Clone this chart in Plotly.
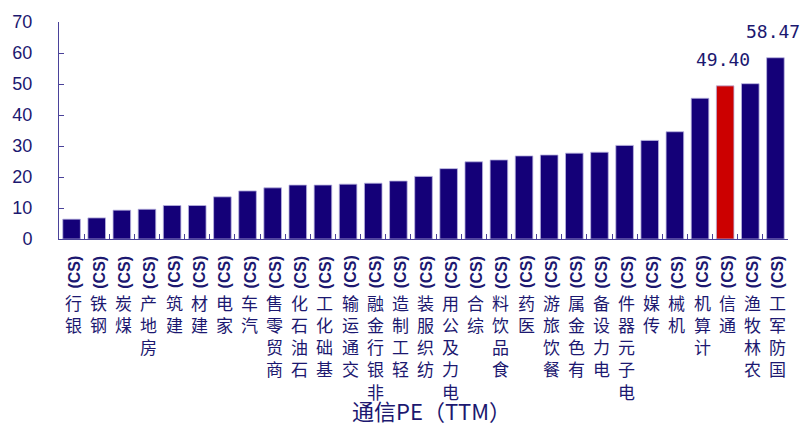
import plotly.graph_objects as go

# Industry names (CITIC level-1) and their PE (TTM)
industries = ["银行", "钢铁", "煤炭", "房地产", "建筑", "建材", "家电", "汽车",
              "商贸零售", "石油石化", "基础化工", "交通运输", "非银行金融", "轻工制造",
              "纺织服装", "电力及公用", "综合", "食品饮料", "医药", "餐饮旅游",
              "有色金属", "电力设备", "电子元器件", "传媒", "机械", "计算机",
              "通信", "农林牧渔", "国防军工"]
pe_ttm = [6.4, 6.8, 9.3, 9.6, 10.8, 10.8, 13.6, 15.5, 16.5, 17.4, 17.4, 17.7,
          18.0, 18.7, 20.2, 22.7, 24.9, 25.5, 26.8, 27.1, 27.7, 28.0, 30.2,
          31.8, 34.6, 45.4, 49.40, 50.1, 58.47]
highlight = "通信"
labelled = ["通信", "国防军工"]
suffix = "(CS)"
y_ticks = [0, 10, 20, 30, 40, 50, 60, 70]
title_text = "通信PE（TTM）"

NAVY = "#140078"
RED = "#cc0000"
TEXT = "#1c1870"
AXIS = "#4a4299"

bar_colors = [RED if name == highlight else NAVY for name in industries]

fig = go.Figure()
fig.add_trace(go.Bar(
    x=industries,
    y=pe_ttm,
    marker=dict(color=bar_colors, line=dict(color="#b9b4e0", width=0.8)),
    hoverinfo="x+y",
    showlegend=False,
))

annotations = []
# Value labels above selected bars
for name, val in zip(industries, pe_ttm):
    if name in labelled:
        annotations.append(dict(
            x=name, y=val, xref="x", yref="y",
            text=f"{val:.2f}", showarrow=False,
            xanchor="center", yanchor="bottom", yshift=14, xshift=-2,
            font=dict(family="DejaVu Sans Mono", size=18, color=TEXT),
        ))

# Vertical category labels read bottom-to-top: "(CS)" rotated next to the axis,
# Chinese characters kept upright and stacked below it (last character on top)
CHAR_PITCH = 22.3
for name in industries:
    annotations.append(dict(
        x=name, y=0, xref="x", yref="y",
        text=f"<b>{suffix}</b>", textangle=-90, showarrow=False,
        xanchor="center", yanchor="middle", yshift=-33, xshift=2,
        font=dict(family="Liberation Sans", size=16, color=TEXT),
    ))
    for k, ch in enumerate(reversed(name)):
        annotations.append(dict(
            x=name, y=0, xref="x", yref="y",
            text=ch, showarrow=False,
            xanchor="center", yanchor="middle",
            yshift=-63 - k * CHAR_PITCH, xshift=2,
            font=dict(family="Noto Sans CJK SC", size=17, color=TEXT),
        ))

# Axis caption under the labels
annotations.append(dict(
    x=0.511, y=-0.79, xref="paper", yref="paper", text=title_text,
    showarrow=False, xanchor="center", yanchor="middle",
    font=dict(family="Noto Sans CJK SC", size=22, color=TEXT),
))

fig.update_layout(
    width=800, height=425,
    margin=dict(l=58, r=12, t=15, b=186),
    paper_bgcolor="white", plot_bgcolor="white",
    bargap=0.3,
    annotations=annotations,
    xaxis=dict(
        showticklabels=False, tickson="boundaries", ticks="inside", ticklen=5,
        tickcolor=AXIS, showline=True, linecolor=AXIS, linewidth=1,
        showgrid=False, zeroline=False, range=[-0.5, len(industries) - 0.5],
    ),
    yaxis=dict(
        range=[0, 70], tickvals=y_ticks, ticks="inside", ticklen=5,
        tickcolor=AXIS, showline=True, linecolor=AXIS, linewidth=1,
        showgrid=False, zeroline=False, ticklabelstandoff=22,
        tickfont=dict(family="Liberation Sans", size=18, color=TEXT),
    ),
)

fig.write_html("out.html")
